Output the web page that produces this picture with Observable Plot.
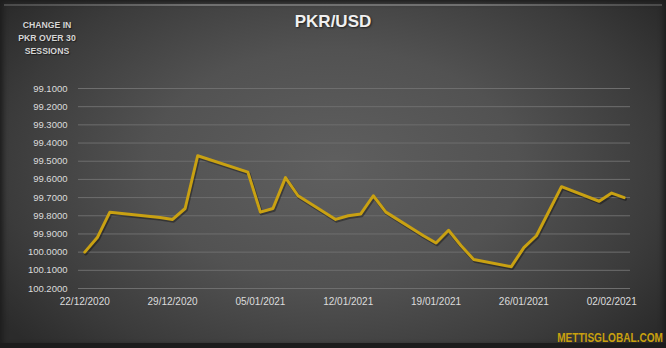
<!DOCTYPE html>
<html><head><meta charset="utf-8">
<script src="https://cdn.jsdelivr.net/npm/d3@7"></script>
<script src="https://cdn.jsdelivr.net/npm/@observablehq/plot@0.6"></script>
<style>
html,body{margin:0;padding:0;background:#222;}
#wrap{position:relative;width:666px;height:348px;overflow:hidden;
 background: radial-gradient(ellipse 62% 75% at 50% 48%, #5f5f5f 0%, #525252 45%, #3b3b3b 80%, #2b2b2b 100%);
 box-shadow: inset 0 0 5px 3px #1e1e1e;
 font-family:"Liberation Sans", Arial, sans-serif;}
#topline{position:absolute;left:4px;right:4px;top:4px;height:2px;background:linear-gradient(90deg,#4a4a4a,#707070 30%,#707070 70%,#4a4a4a);}
#bot{position:absolute;left:0;right:0;bottom:0;height:5px;background:#1c1c1c;}
#title{position:absolute;left:0;width:666px;top:12px;text-align:center;font-weight:bold;font-size:17px;line-height:20px;color:#f0f0f0;text-shadow:1px 1px 2px rgba(0,0,0,.6);}
#side{position:absolute;left:0;width:94px;top:19px;text-align:center;font-weight:bold;font-size:8.7px;line-height:13px;color:#d6d6d6;text-shadow:1px 1px 1px rgba(0,0,0,.5);}
#wm{position:absolute;right:3px;top:331px;font-family:"Liberation Sans Narrow","Liberation Sans",Arial,sans-serif;font-weight:bold;font-size:12px;line-height:14px;color:#c9a10e;transform-origin:right center;transform:scaleX(0.84);}
#chart{position:absolute;left:0;top:0;}
</style></head>
<body>
<div id="wrap">
<div id="topline"></div>
<div id="bot"></div>
<div id="chart"></div>
<div id="title">PKR/USD</div>
<div id="side">CHANGE IN<br>PKR OVER 30<br>SESSIONS</div>
<div id="wm">METTISGLOBAL.COM</div>
</div>
<script>
const dates = ["2020-12-22","2020-12-23","2020-12-24","2020-12-28","2020-12-29","2020-12-30","2020-12-31",
 "2021-01-04","2021-01-05","2021-01-06","2021-01-07","2021-01-08",
 "2021-01-11","2021-01-12","2021-01-13","2021-01-14","2021-01-15",
 "2021-01-18","2021-01-19","2021-01-20","2021-01-21","2021-01-22",
 "2021-01-25","2021-01-26","2021-01-27","2021-01-28","2021-01-29",
 "2021-02-01","2021-02-02","2021-02-03"];
const values = [100.00, 99.92, 99.78, 99.81, 99.82, 99.76, 99.47,
 99.56, 99.78, 99.76, 99.59, 99.69,
 99.82, 99.80, 99.79, 99.69, 99.78,
 99.91, 99.95, 99.88, 99.965, 100.04,
 100.08, 99.975, 99.91, 99.775, 99.64,
 99.72, 99.675, 99.70];
const yTicks = [99.1, 99.2, 99.3, 99.4, 99.5, 99.6, 99.7, 99.8, 99.9, 100.0, 100.1, 100.2];
const xTickLabels = ["2020-12-22","2020-12-29","2021-01-05","2021-01-12","2021-01-19","2021-01-26","2021-02-02"];

const parse = d3.utcParse("%Y-%m-%d");
const data = dates.map((d,i)=>({date: parse(d), value: values[i]}));
const xTicks = xTickLabels.map(parse);
const half = 12*3600*1000;
const xDomain = [new Date(+parse(dates[0]) - half), new Date(+parse(dates[dates.length-1]) + half)];

const chart = Plot.plot({
  width: 666, height: 348,
  marginLeft: 78, marginRight: 36, marginTop: 88, marginBottom: 60,
  style: {background: "transparent", color: "#d9d9d9", fontFamily: "'Liberation Sans', Arial, sans-serif", fontSize: "10px"},
  x: {type: "utc", domain: xDomain},
  y: {domain: [100.2, 99.1]},
  marks: [
    Plot.ruleY(yTicks, {stroke: "#6e6e6e", strokeWidth: 1}),
    Plot.axisY(yTicks, {tickSize: 0, tickPadding: 11, tickFormat: d => d.toFixed(4), fontSize: 9.5, fill: "#dcdcdc", label: null}),
    Plot.axisX(xTicks, {tickSize: 0, tickPadding: 9, tickFormat: d3.utcFormat("%d/%m/%Y"), fontSize: 10, fill: "#dcdcdc", label: null}),
    Plot.lineY(data, {x: "date", y: "value", stroke: "#000", strokeOpacity: 0.35, strokeWidth: 3.5, dx: 1, dy: 1.5, strokeLinejoin: "round"}),
    Plot.lineY(data, {x: "date", y: "value", stroke: "#c9a112", strokeWidth: 3, strokeLinejoin: "round"})
  ]
});
document.getElementById("chart").appendChild(chart);
</script>
</body></html>
